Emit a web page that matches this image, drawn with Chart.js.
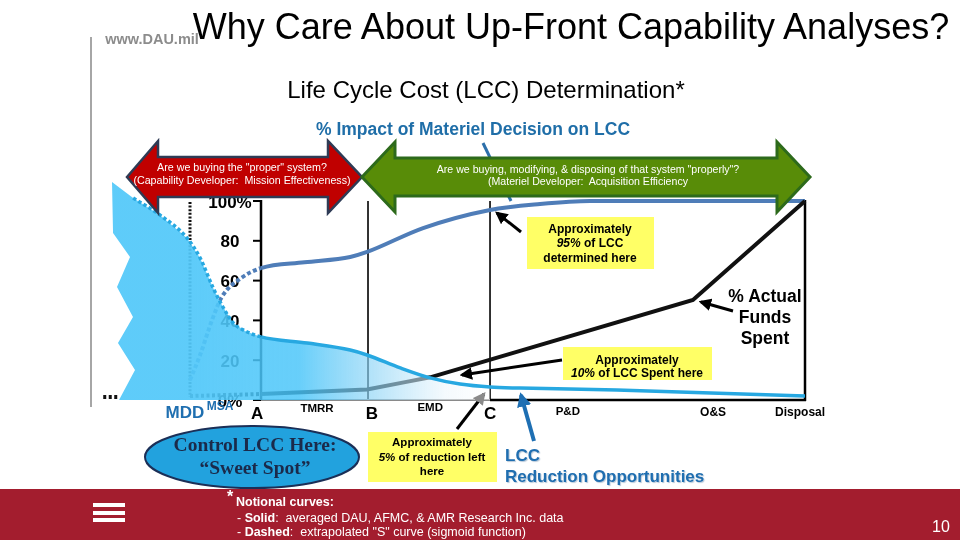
<!DOCTYPE html>
<html><head><meta charset="utf-8">
<script src="https://cdn.jsdelivr.net/npm/chart.js@4.4.1/dist/chart.umd.min.js"></script>
<style>
html,body{margin:0;padding:0;background:#fff;overflow:hidden}
#slide{position:relative;width:960px;height:540px;overflow:hidden;font-family:"Liberation Sans",Arial,sans-serif;color:#000}
#chart{position:absolute;left:0;top:0;width:960px;height:540px}
svg{position:absolute;left:0;top:0}
.t{position:absolute;white-space:nowrap;line-height:1;transform:translate(-50%,-50%)}
.l{position:absolute;white-space:nowrap;line-height:1;transform:translate(0,-50%)}
.box{position:absolute;background:#FFFF66}
.b{font-weight:bold}
</style></head><body>
<div id="slide">
<canvas id="chart" width="960" height="540"></canvas>
<div style="position:absolute;left:90px;top:37px;width:2px;height:370px;background:#a6a6a6"></div>
<div style="position:absolute;left:0;top:489px;width:960px;height:51px;background:#A31D2E"></div>
<svg width="960" height="540">
<defs>
<marker id="hk" viewBox="0 0 10 10" refX="8" refY="5" markerWidth="4.2" markerHeight="4.2" orient="auto"><path d="M0,0L10,5L0,10z" fill="#000"/></marker>
<marker id="hg" viewBox="0 0 10 10" refX="8" refY="5" markerWidth="4.2" markerHeight="4.2" orient="auto"><path d="M0,0L10,5L0,10z" fill="#8a8a8a"/></marker>
<marker id="hb" viewBox="0 0 10 10" refX="8" refY="5" markerWidth="3.6" markerHeight="3.6" orient="auto"><path d="M0,0L10,5L0,10z" fill="#1E6FB3"/></marker>
</defs>
<line x1="483" y1="143" x2="511" y2="201" stroke="#2C6FAA" stroke-width="3"/>
<polygon points="127,177 158,141 158,157 328,157 328,141 362,177 328,213 328,197 158,197 158,213" fill="#C00000" stroke="#2E3B55" stroke-width="2.5"/>
<polygon points="362,177 395,142 395,158 777,158 777,142 810,177 777,212 777,196 395,196 395,212" fill="#588C08" stroke="#2D6A1B" stroke-width="3"/>
<line x1="521" y1="232" x2="497" y2="213" stroke="#000" stroke-width="3" marker-end="url(#hk)"/>
<line x1="733" y1="311" x2="701" y2="302" stroke="#000" stroke-width="3" marker-end="url(#hk)"/>
<line x1="562" y1="360" x2="462" y2="375" stroke="#000" stroke-width="3" marker-end="url(#hk)"/>
<line x1="457" y1="429" x2="484" y2="394" stroke="#000" stroke-width="3" marker-end="url(#hg)"/>
<line x1="534" y1="441" x2="521" y2="395" stroke="#1E6FB3" stroke-width="4" marker-end="url(#hb)"/>
<ellipse cx="252" cy="457" rx="107" ry="31" fill="#22A2DE" stroke="#1B2F57" stroke-width="2"/>
<rect x="93" y="503" width="32" height="4" fill="#fff"/>
<rect x="93" y="511" width="32" height="4" fill="#fff"/>
<rect x="93" y="518" width="32" height="4" fill="#fff"/>
</svg>
<div class="t b" style="left:152px;top:39px;font-size:14.5px;color:#8c8c8c">www.DAU.mil</div>
<div class="t" style="left:571px;top:27px;font-size:36px">Why Care About Up-Front Capability Analyses?</div>
<div class="t" style="left:486px;top:90px;font-size:24px">Life Cycle Cost (LCC) Determination*</div>
<div class="t b" style="left:473px;top:130px;font-size:17.5px;color:#1F6EA8">% Impact of Materiel Decision on LCC</div>
<div class="t" style="left:242px;top:167px;font-size:10.7px;color:#fff">Are we buying the "proper" system?</div>
<div class="t" style="left:242px;top:180px;font-size:10.7px;color:#fff">(Capability Developer:&nbsp; Mission Effectiveness)</div>
<div class="t" style="left:588px;top:169px;font-size:10.6px;color:#fff">Are we buying, modifying, &amp; disposing of that system "properly"?</div>
<div class="t" style="left:588px;top:181px;font-size:10.6px;color:#fff">(Materiel Developer:&nbsp; Acquisition Efficiency</div>
<div class="box" style="left:527px;top:217px;width:127px;height:52px"></div>
<div class="t b" style="left:590px;top:229px;font-size:12px">Approximately</div>
<div class="t b" style="left:590px;top:243px;font-size:12px"><i>95%</i> of LCC</div>
<div class="t b" style="left:590px;top:257.5px;font-size:12px">determined here</div>
<div class="box" style="left:563px;top:347px;width:149px;height:33px"></div>
<div class="t b" style="left:637px;top:360px;font-size:12px">Approximately</div>
<div class="t b" style="left:637px;top:373px;font-size:12px"><i>10%</i> of LCC Spent here</div>
<div class="box" style="left:368px;top:432px;width:129px;height:50px"></div>
<div class="t b" style="left:432px;top:443px;font-size:11.5px">Approximately</div>
<div class="t b" style="left:432px;top:457.5px;font-size:11.5px"><i>5%</i> of reduction left</div>
<div class="t b" style="left:432px;top:471.5px;font-size:11.5px">here</div>
<div class="t b" style="left:765px;top:297px;font-size:17.5px">% Actual</div>
<div class="t b" style="left:765px;top:318px;font-size:17.5px">Funds</div>
<div class="t b" style="left:765px;top:339px;font-size:17.5px">Spent</div>
<div class="l b" style="left:505px;top:455px;font-size:17px;color:#1F6EB0;text-shadow:1px 1px 1px #b8c8d8">LCC</div>
<div class="l b" style="left:505px;top:476px;font-size:17px;color:#1F6EB0;text-shadow:1px 1px 1px #b8c8d8">Reduction Opportunities</div>
<div class="t b" style="left:255px;top:445px;font-size:19.5px;font-family:'Liberation Serif','Times New Roman',serif;color:#1B2A4A">Control LCC Here:</div>
<div class="t b" style="left:255px;top:468px;font-size:19.5px;font-family:'Liberation Serif','Times New Roman',serif;color:#1B2A4A">“Sweet Spot”</div>
<div class="l b" style="left:227px;top:497px;font-size:16px;color:#fff">*</div>
<div class="l b" style="left:236px;top:502px;font-size:12.5px;color:#fff">Notional curves:</div>
<div class="l" style="left:237px;top:518px;font-size:12.5px;color:#fff">- <b>Solid</b>:&nbsp; averaged DAU, AFMC, &amp; AMR Research Inc. data</div>
<div class="l" style="left:237px;top:532px;font-size:12.5px;color:#fff">- <b>Dashed</b>:&nbsp; extrapolated "S" curve (sigmoid function)</div>
<div class="t" style="left:941px;top:527px;font-size:16px;color:#fff">10</div>
</div>
<script>
// ---- data ----
const yTickValues = [0, 20, 40, 60, 80, 100];
const yTickLabels = ['0%', '20', '40', '60', '80', '100%'];

const milestoneLabels = ['MDD', 'MSA', 'A', 'TMRR', 'B', 'EMD', 'C', 'P&D', 'O&S', 'Disposal'];
const milestoneX = [-14.0, -7.5, -0.7, 10.3, 20.4, 31.1, 42.1, 56.4, 83.1, 99.1];
const decisionLineX = [19.67, 42.1];   // B, C
const mddX = -13.05;
const timelineEnd = 100;

// % Impact of Materiel Decision on LCC
const impactX = [-13.05, -11.2, -9.0, -7.2, -3.9, 0, 8, 16.4, 19.5, 29.8, 42.1, 51.3, 60.5, 100];
const impactY = [10, 22.6, 40.2, 51.8, 60.8, 66.3, 69.2, 71.9, 74.4, 86.4, 95.5, 98.5, 100, 100];

// LCC Reduction Opportunities
const reductionX = [-23.5, -18.6, -13.6, -11.2, -8.8, -7.2, -5.1, -2.9, 0, 8.5, 16.4, 19.5, 25.6, 31.1, 36.6, 42.1, 47.6, 65.4, 100];
const reductionY = [101.5, 93, 81.4, 71.4, 56.3, 47.7, 38.7, 34.7, 31.7, 28.6, 25.1, 22.6, 16.1, 11.1, 8.0, 6.5, 6.0, 5.0, 2.0];

// % Actual Funds Spent
const fundsX = [-29.0, -26.3, -20, -13.05, 0, 19.5, 26.5, 31.1, 79.4, 100];
const fundsY = [1.5, 1.5, null, 2, 3, 5.3, 9.0, 11.4, 50.3, 100];

// torn left edge of the shaded reduction area (bottom to top)
const areaEdgeX = [-26.1, -23.16, -26.29, -23.53, -26.47, -24.08, -27.2, -27.39];
const areaEdgeY = [0, 15.1, 28.6, 41.7, 56.8, 71.9, 83.9, 109.5];

// ---- build ----
const pts = (xs, ys) => xs.map((v, i) => ({x: v, y: ys[i]}));
const dashLeft = (xs, pattern) => ({ borderDash: c => xs[c.p1DataIndex] <= 0 ? pattern : undefined });

const areaPts = [{x: areaEdgeX[areaEdgeX.length - 1], y: areaEdgeY[areaEdgeY.length - 1]}];
reductionX.forEach((v, i) => { if (v <= decisionLineX[1]) areaPts.push({x: v, y: reductionY[i]}); });
areaPts.push({x: decisionLineX[1], y: 0});
areaEdgeX.forEach((v, i) => areaPts.push({x: v, y: areaEdgeY[i]}));

function areaGradient(c) {
  const chart = c.chart;
  if (!chart.chartArea) return 'rgba(82,200,249,0.93)';
  const xs = chart.scales.x;
  const g = chart.ctx.createLinearGradient(xs.getPixelForValue(-12), 0, xs.getPixelForValue(decisionLineX[1]), 0);
  g.addColorStop(0, 'rgba(82,200,249,0.93)');
  g.addColorStop(0.2, 'rgba(75,198,249,0.86)');
  g.addColorStop(0.35, 'rgba(70,196,249,0.82)');
  g.addColorStop(0.6, 'rgba(140,212,246,0.65)');
  g.addColorStop(0.85, 'rgba(236,246,252,0.55)');
  g.addColorStop(1, 'rgba(255,255,255,0.45)');
  return g;
}

const milestoneStyle = {
  'MDD': {font: 'bold 17px "Liberation Sans", Arial', color: '#1F6FB0', dy: 13},
  'MSA': {font: 'bold 12px "Liberation Sans", Arial', color: '#1F6FB0', dy: 7},
  'A': {font: 'bold 17px "Liberation Sans", Arial', color: '#000', dy: 14},
  'TMRR': {font: 'bold 11.5px "Liberation Sans", Arial', color: '#000', dy: 9},
  'B': {font: 'bold 17px "Liberation Sans", Arial', color: '#000', dy: 14},
  'EMD': {font: 'bold 11.5px "Liberation Sans", Arial', color: '#000', dy: 7.5},
  'C': {font: 'bold 17px "Liberation Sans", Arial', color: '#000', dy: 14},
  'P&D': {font: 'bold 11.5px "Liberation Sans", Arial', color: '#000', dy: 12},
  'O&S': {font: 'bold 12px "Liberation Sans", Arial', color: '#000', dy: 12.5},
  'Disposal': {font: 'bold 12px "Liberation Sans", Arial', color: '#000', dy: 13}
};

function seg(ctx, x1, y1, x2, y2) { ctx.beginPath(); ctx.moveTo(x1, y1); ctx.lineTo(x2, y2); ctx.stroke(); }

const axesPlugin = {
  id: 'axesPlugin',
  beforeDatasetsDraw(chart) {
    const {ctx, scales: {x, y}} = chart;
    const X = v => x.getPixelForValue(v), Y = v => y.getPixelForValue(v);
    const top = Y(yTickValues[yTickValues.length - 1]), bot = Y(0);
    ctx.save();
    ctx.strokeStyle = '#111'; ctx.lineWidth = 3; ctx.setLineDash([2, 1.6]);
    seg(ctx, X(mddX), top + 1, X(mddX), bot - 3);
    ctx.setLineDash([]);
    ctx.strokeStyle = '#000'; ctx.lineWidth = 1.6;
    decisionLineX.forEach(v => seg(ctx, X(v), top, X(v), bot));
    ctx.lineWidth = 2.5; seg(ctx, X(timelineEnd), top - 1, X(timelineEnd), bot + 1);
    ctx.strokeStyle = '#8a8a8a'; ctx.lineWidth = 2; seg(ctx, X(0), bot, X(decisionLineX[1]), bot);
    ctx.strokeStyle = '#000'; ctx.lineWidth = 2.5; seg(ctx, X(decisionLineX[1]), bot, X(timelineEnd) + 1, bot);
    ctx.lineWidth = 2.5; seg(ctx, X(0), top - 1, X(0), bot);
    ctx.font = 'bold 17px "Liberation Sans", Arial';
    ctx.textAlign = 'center'; ctx.textBaseline = 'middle'; ctx.fillStyle = '#000';
    yTickValues.forEach((v, i) => {
      ctx.lineWidth = 2; seg(ctx, X(0) - 8, Y(v), X(0), Y(v));
      ctx.fillText(yTickLabels[i], X(0) - 31, Y(v) + 2);
    });
    ctx.restore();
  },
  afterDatasetsDraw(chart) {
    const {ctx, scales: {x, y}} = chart;
    ctx.save();
    ctx.textAlign = 'center'; ctx.textBaseline = 'middle';
    milestoneLabels.forEach((lab, i) => {
      const s = milestoneStyle[lab];
      ctx.font = s.font; ctx.fillStyle = s.color;
      ctx.fillText(lab, x.getPixelForValue(milestoneX[i]), y.getPixelForValue(0) + s.dy);
    });
    ctx.restore();
  }
};

new Chart(document.getElementById('chart'), {
  type: 'line',
  data: {
    datasets: [
      {label: 'LCC Reduction Opportunities', data: pts(reductionX, reductionY), order: 0,
       borderColor: '#27A8E1', borderWidth: 3.5, cubicInterpolationMode: 'monotone', pointRadius: 0,
       fill: false, clip: false, segment: dashLeft(reductionX, [3.5, 2.5])},
      {label: 'Reduction area', data: areaPts, order: 1, borderWidth: 0, borderColor: 'rgba(0,0,0,0)',
       backgroundColor: areaGradient, fill: 'shape', pointRadius: 0, tension: 0},
      {label: '% Actual Funds Spent', data: pts(fundsX, fundsY), order: 2, borderColor: '#111', borderWidth: 4,
       pointRadius: 0, tension: 0, spanGaps: false, fill: false, clip: false, segment: dashLeft(fundsX, [3, 2.5])},
      {label: '% Impact of Materiel Decision on LCC', data: pts(impactX, impactY), order: 3,
       borderColor: '#4F7DB8', borderWidth: 4, cubicInterpolationMode: 'monotone', pointRadius: 0,
       fill: false, clip: false, segment: dashLeft(impactX, [4, 2.5])}
    ]
  },
  options: {
    responsive: false, animation: false, events: [],
    layout: {padding: {left: 97.8, right: 155, top: 141.3, bottom: 140}},
    scales: {
      x: {type: 'linear', min: -30, max: 100, display: false},
      y: {type: 'linear', min: 0, max: 130, display: false}
    },
    plugins: {legend: {display: false}, tooltip: {enabled: false}}
  },
  plugins: [axesPlugin]
});
</script>
</body></html>
